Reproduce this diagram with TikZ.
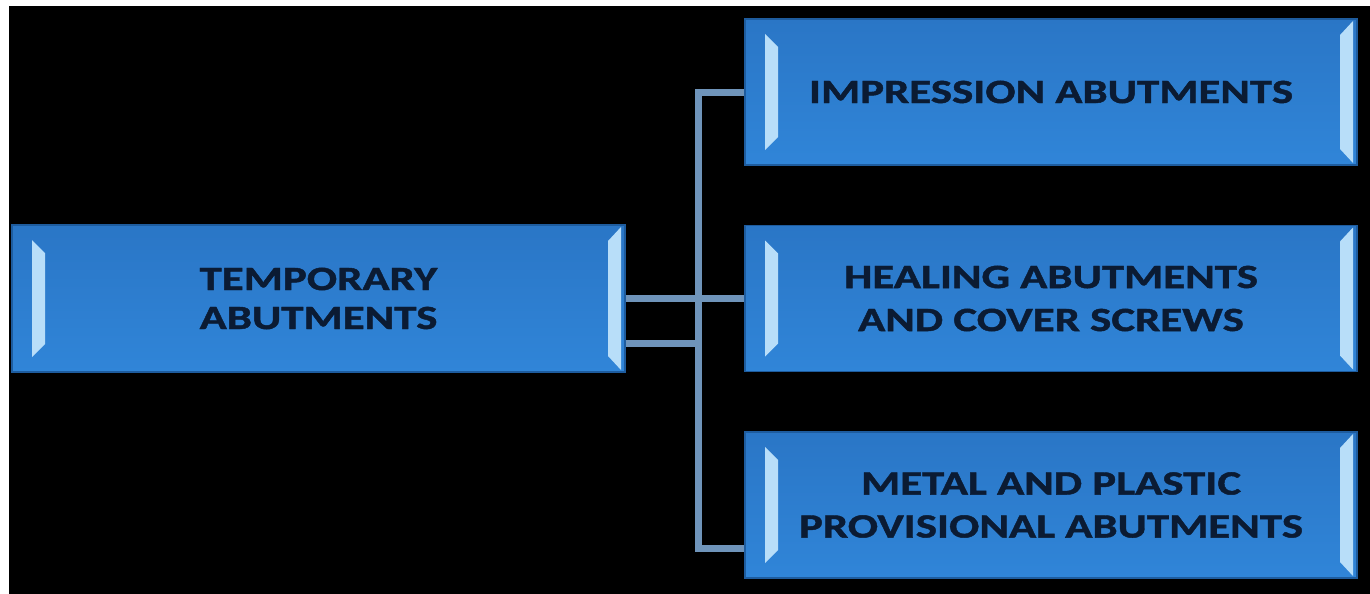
\documentclass[tikz,border=0pt]{standalone}
\usepackage{fontspec}
\setmainfont{Carlito}[FakeStretch=1.32, BoldFeatures={FakeBold=1.3}]
\definecolor{boxtop}{HTML}{2A76C6}
\definecolor{boxbot}{HTML}{3085D8}
\definecolor{boxedge}{HTML}{1E5C9E}
\definecolor{hlcol}{HTML}{B8DEF9}
\definecolor{navy}{HTML}{0B1B33}
\definecolor{conncol}{HTML}{6F94BA}
\begin{document}
\begin{tikzpicture}[x=1pt,y=-1pt,
  bevelbox/.style={rectangle, minimum width=612pt, minimum height=146pt, inner sep=0pt,
    top color=boxtop, bottom color=boxbot, draw=boxedge, line width=1.2pt,
    font=\fontsize{34}{43}\selectfont\bfseries, text=navy, align=center,
    path picture={
      \fill[hlcol] ([xshift=20pt,yshift=-15pt]path picture bounding box.north west)
        -- ([xshift=33pt,yshift=-28pt]path picture bounding box.north west)
        -- ([xshift=33pt,yshift=28pt]path picture bounding box.south west)
        -- ([xshift=20pt,yshift=15pt]path picture bounding box.south west) -- cycle;
      \fill[hlcol] ([xshift=-4pt,yshift=-2pt]path picture bounding box.north east)
        -- ([xshift=-4pt,yshift=2pt]path picture bounding box.south east)
        -- ([xshift=-17pt,yshift=16pt]path picture bounding box.south east)
        -- ([xshift=-17pt,yshift=-16pt]path picture bounding box.north east) -- cycle;
    }},
  conn/.style={draw=conncol, line width=7pt}]
\useasboundingbox (0,0) rectangle (1370,594);
\fill[white] (0,0) rectangle (1370,594);
\fill[black] (9,6) rectangle (1370,594);

\node[bevelbox, minimum width=613pt, minimum height=147pt, font=\fontsize{34}{39}\selectfont\bfseries] (tmp) at (318.5,298.5) {TEMPORARY\\ABUTMENTS};
\node[bevelbox] (imp) at (1051,92) {IMPRESSION ABUTMENTS};
\node[bevelbox] (heal) at (1051,298.5) {HEALING ABUTMENTS\\AND COVER SCREWS};
\node[bevelbox] (prov) at (1051,505) {METAL AND PLASTIC\\PROVISIONAL ABUTMENTS};

\coordinate (busbot) at (698,548);
\coordinate (tlow) at ([yshift=-44.5pt]tmp.east);
\draw[conn] (imp.west) -| (busbot) -- (busbot -| prov.west);
\draw[conn] (tmp.east) -- (heal.west);
\draw[conn] (tlow) -- (tlow -| busbot);
\end{tikzpicture}
\end{document}
